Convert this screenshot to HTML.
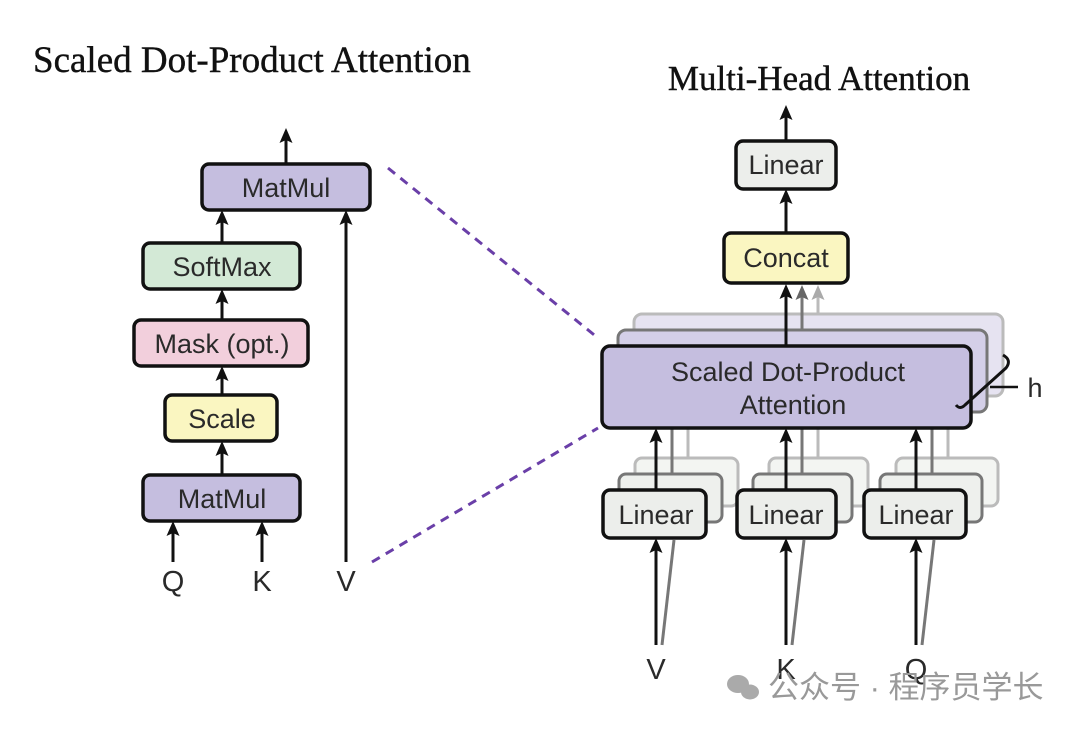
<!DOCTYPE html>
<html><head><meta charset="utf-8"><style>
html,body{margin:0;padding:0;background:#fff;width:1080px;height:730px;overflow:hidden}
svg{display:block}
.t{font-family:"Liberation Sans",sans-serif;fill:#2a2a2a}
.s{font-family:"Liberation Serif",serif;fill:#111}
</style></head><body>
<svg width="1080" height="730" viewBox="0 0 1080 730" xmlns="http://www.w3.org/2000/svg">
<defs>
<path id="h" d="M-6.5,15 L0,0 L6.5,15 L0,12 Z"/>
</defs>
<g stroke-width="3.5" fill="none">
<text class="s" x="33" y="72" font-size="37" stroke="#111" stroke-width="0.4">Scaled Dot-Product Attention</text>
<g stroke="#111" stroke-width="3">
<line x1="286" y1="164" x2="286" y2="140"/>
<line x1="222" y1="243" x2="222" y2="220"/>
<line x1="222" y1="320" x2="222" y2="299"/>
<line x1="222" y1="395" x2="222" y2="376"/>
<line x1="222" y1="475" x2="222" y2="451"/>
<line x1="173" y1="562" x2="173" y2="531"/>
<line x1="262" y1="562" x2="262" y2="531"/>
<line x1="346" y1="562" x2="346" y2="220"/>
</g>
<g fill="#111" stroke="none">
<use href="#h" x="286" y="128"/>
<use href="#h" x="222" y="210"/>
<use href="#h" x="222" y="289"/>
<use href="#h" x="222" y="366"/>
<use href="#h" x="222" y="441"/>
<use href="#h" x="173" y="521"/>
<use href="#h" x="262" y="521"/>
<use href="#h" x="346" y="210"/>
</g>
<g stroke="#111">
<rect x="202" y="164" width="168" height="46" rx="7" fill="#c5bedf"/>
<rect x="143" y="243" width="157" height="46" rx="7" fill="#d3e9d6"/>
<rect x="134" y="320" width="174" height="46" rx="7" fill="#f2cfdc"/>
<rect x="165" y="395" width="112" height="46" rx="7" fill="#faf6c1"/>
<rect x="143" y="475" width="157" height="46" rx="7" fill="#c5bedf"/>
</g>
<g class="t" font-size="27" text-anchor="middle" stroke="none">
<text x="286" y="197">MatMul</text>
<text x="222" y="276">SoftMax</text>
<text x="222" y="353">Mask (opt.)</text>
<text x="222" y="428">Scale</text>
<text x="222" y="508">MatMul</text>
<text x="173" y="591" font-size="29">Q</text>
<text x="262" y="591" font-size="29">K</text>
<text x="346" y="591" font-size="29">V</text>
</g>
<g stroke="#6a3fa8" stroke-width="3" stroke-dasharray="9,7">
<line x1="388" y1="168" x2="598" y2="338"/>
<line x1="372" y1="562" x2="598" y2="428"/>
</g>
<text class="s" x="819" y="90" font-size="35" text-anchor="middle" stroke="#111" stroke-width="0.4">Multi-Head Attention</text>
<g stroke="#bbb" stroke-width="3">
<rect x="634" y="314" width="369" height="82" rx="8" fill="#e6e3f1"/>
<rect x="635" y="458" width="103" height="48" rx="7" fill="#f3f5f2"/>
<rect x="769" y="458" width="99" height="48" rx="7" fill="#f3f5f2"/>
<rect x="896" y="458" width="102" height="48" rx="7" fill="#f3f5f2"/>
<line x1="688" y1="458" x2="688" y2="396"/>
<line x1="818" y1="458" x2="818" y2="396"/>
<line x1="948" y1="458" x2="948" y2="396"/>
<line x1="818" y1="314" x2="818" y2="296"/>
</g>
<use href="#h" x="818" y="285" fill="#aaa" stroke="none"/>
<g stroke="#777" stroke-width="3">
<rect x="618" y="330" width="369" height="82" rx="8" fill="#d4cfe8"/>
<rect x="619" y="474" width="103" height="48" rx="7" fill="#eef0ed"/>
<rect x="753" y="474" width="99" height="48" rx="7" fill="#eef0ed"/>
<rect x="880" y="474" width="102" height="48" rx="7" fill="#eef0ed"/>
<line x1="672" y1="474" x2="672" y2="412"/>
<line x1="802" y1="474" x2="802" y2="412"/>
<line x1="932" y1="474" x2="932" y2="412"/>
<line x1="662" y1="645" x2="674" y2="540"/>
<line x1="792" y1="645" x2="804" y2="540"/>
<line x1="922" y1="645" x2="934" y2="540"/>
<line x1="802" y1="330" x2="802" y2="296"/>
</g>
<use href="#h" x="802" y="285" fill="#666" stroke="none"/>
<g stroke="#111" stroke-width="3">
<line x1="786" y1="141" x2="786" y2="117"/>
<line x1="786" y1="233" x2="786" y2="199"/>
<line x1="786" y1="346" x2="786" y2="295"/>
<line x1="656" y1="490" x2="656" y2="438"/>
<line x1="786" y1="490" x2="786" y2="438"/>
<line x1="916" y1="490" x2="916" y2="438"/>
<line x1="656" y1="645" x2="656" y2="548"/>
<line x1="786" y1="645" x2="786" y2="548"/>
<line x1="916" y1="645" x2="916" y2="548"/>
</g>
<g fill="#111" stroke="none">
<use href="#h" x="786" y="105"/>
<use href="#h" x="786" y="189"/>
<use href="#h" x="786" y="284"/>
<use href="#h" x="656" y="428"/>
<use href="#h" x="786" y="428"/>
<use href="#h" x="916" y="428"/>
<use href="#h" x="656" y="538"/>
<use href="#h" x="786" y="538"/>
<use href="#h" x="916" y="538"/>
</g>
<g stroke="#111">
<rect x="736" y="141" width="100" height="48" rx="7" fill="#eceeeb"/>
<rect x="724" y="233" width="124" height="50" rx="7" fill="#faf6c1"/>
<rect x="602" y="346" width="369" height="82" rx="8" fill="#c5bedf"/>
<rect x="603" y="490" width="103" height="48" rx="7" fill="#eceeeb"/>
<rect x="737" y="490" width="99" height="48" rx="7" fill="#eceeeb"/>
<rect x="864" y="490" width="102" height="48" rx="7" fill="#eceeeb"/>
</g>
<path d="M1003,355 Q1012,360 1006,368 L965,405 Q960,410 956,405" stroke="#111" stroke-width="3"/>
<line x1="990" y1="387" x2="1018" y2="387" stroke="#111" stroke-width="2.5"/>
<g class="t" font-size="27" text-anchor="middle" stroke="none">
<text x="1035" y="397">h</text>
<text x="786" y="174">Linear</text>
<text x="786" y="267">Concat</text>
<text x="788" y="381">Scaled Dot-Product</text>
<text x="793" y="414">Attention</text>
<text x="656" y="524">Linear</text>
<text x="786" y="524">Linear</text>
<text x="916" y="524">Linear</text>
<text x="656" y="679" font-size="29">V</text>
<text x="786" y="679" font-size="29">K</text>
<text x="916" y="679" font-size="29">Q</text>
</g>
<g fill="#aaa" stroke="none">
<ellipse cx="738" cy="684" rx="11" ry="9"/>
<ellipse cx="750" cy="692" rx="9" ry="7.5"/>
</g>
<text x="768" y="698" font-size="31" fill="#999" stroke="none" font-family="'Liberation Sans','Noto Sans CJK SC',sans-serif">公众号 · 程序员学长</text>
</g>
</svg>
</body></html>
